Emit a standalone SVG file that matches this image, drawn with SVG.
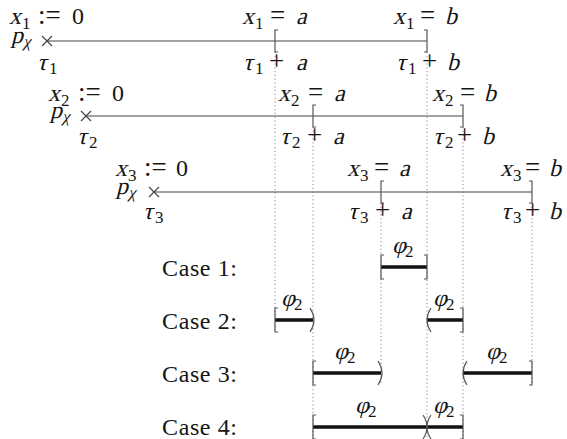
<svg xmlns="http://www.w3.org/2000/svg" width="567" height="439" viewBox="0 0 567 439">
<style>
text{font-family:"Liberation Serif","Times New Roman",serif;font-size:24px;fill:#151515}
.s{font-size:17px}
.g{font-size:17px}
.op{font-size:27px}
.axis{stroke:#444;stroke-width:1.2;fill:none}
.br{stroke:#555;stroke-width:1.2;fill:none}
.thick{stroke:#111;stroke-width:3.6;fill:none}
.dot{stroke:#888;stroke-width:1;stroke-dasharray:1.2 2.6;fill:none}
</style>
<rect width="567" height="439" fill="#fff"/>
<g id="connectors">
<path class="dot" d="M275 52V330"/>
<path class="dot" d="M313 127V439"/>
<path class="dot" d="M381 203V385"/>
<path class="dot" d="M427 52V439"/>
<path class="dot" d="M463 127V439"/>
<path class="dot" d="M532 203V385"/>
</g>
<g id="row1">
<path class="axis" d="M47 41H427"/>
<path class="axis" d="M42 36L52 46M42 46L52 36"/>
<path class="br" d="M278 30H275V52H278M424 30H427V52H424"/>
<g transform="translate(11,43)"><text transform="skewX(-14)">p</text><text class="g" transform="translate(12,4) skewX(-14)">χ</text></g>
<g transform="translate(9,24)"><text transform="skewX(-14)">x</text><text class="s" x="13" y="5">1</text><text class="op" x="29">:=</text><text x="63">0</text></g>
<g transform="translate(37,70)"><text transform="skewX(-14)">τ</text><text class="s" x="12" y="4">1</text></g>
<g transform="translate(242,24)"><text transform="skewX(-14)">x</text><text class="s" x="13" y="5">1</text><text class="op" x="28">=</text><text transform="translate(54,0) skewX(-14)">a</text></g>
<g transform="translate(393,24)"><text transform="skewX(-14)">x</text><text class="s" x="13" y="5">1</text><text class="op" x="27">=</text><text transform="translate(52,0) skewX(-14)">b</text></g>
<g transform="translate(243,70)"><text transform="skewX(-14)">τ</text><text class="s" x="12" y="4">1</text><text class="op" x="26">+</text><text transform="translate(53,0) skewX(-14)">a</text></g>
<g transform="translate(396,70)"><text transform="skewX(-14)">τ</text><text class="s" x="12" y="4">1</text><text class="op" x="26">+</text><text transform="translate(51,0) skewX(-14)">b</text></g>
</g>
<g id="row2">
<path class="axis" d="M86 116H463"/>
<path class="axis" d="M81 111L91 121M81 121L91 111"/>
<path class="br" d="M316 105H313V127H316M460 105H463V127H460"/>
<g transform="translate(50,118)"><text transform="skewX(-14)">p</text><text class="g" transform="translate(12,4) skewX(-14)">χ</text></g>
<g transform="translate(48,101)"><text transform="skewX(-14)">x</text><text class="s" x="13" y="5">2</text><text class="op" x="30">:=</text><text x="64">0</text></g>
<g transform="translate(77,144)"><text transform="skewX(-14)">τ</text><text class="s" x="12" y="4">2</text></g>
<g transform="translate(278,101)"><text transform="skewX(-14)">x</text><text class="s" x="13" y="5">2</text><text class="op" x="30">=</text><text transform="translate(56,0) skewX(-14)">a</text></g>
<g transform="translate(432,101)"><text transform="skewX(-14)">x</text><text class="s" x="13" y="5">2</text><text class="op" x="28">=</text><text transform="translate(52,0) skewX(-14)">b</text></g>
<g transform="translate(280,144)"><text transform="skewX(-14)">τ</text><text class="s" x="12" y="4">2</text><text class="op" x="27">+</text><text transform="translate(53,0) skewX(-14)">a</text></g>
<g transform="translate(433,144)"><text transform="skewX(-14)">τ</text><text class="s" x="12" y="4">2</text><text class="op" x="24">+</text><text transform="translate(49,0) skewX(-14)">b</text></g>
</g>
<g id="row3">
<path class="axis" d="M154 192H532"/>
<path class="axis" d="M149 187L159 197M149 197L159 187"/>
<path class="br" d="M384 181H381V203H384M529 181H532V203H529"/>
<g transform="translate(116,194)"><text transform="skewX(-14)">p</text><text class="g" transform="translate(12,4) skewX(-14)">χ</text></g>
<g transform="translate(115,176)"><text transform="skewX(-14)">x</text><text class="s" x="13" y="5">3</text><text class="op" x="29">:=</text><text x="61">0</text></g>
<g transform="translate(143,219)"><text transform="skewX(-14)">τ</text><text class="s" x="12" y="4">3</text></g>
<g transform="translate(347,176)"><text transform="skewX(-14)">x</text><text class="s" x="13" y="5">3</text><text class="op" x="27">=</text><text transform="translate(52,0) skewX(-14)">a</text></g>
<g transform="translate(500,176)"><text transform="skewX(-14)">x</text><text class="s" x="13" y="5">3</text><text class="op" x="25">=</text><text transform="translate(49,0) skewX(-14)">b</text></g>
<g transform="translate(348,219)"><text transform="skewX(-14)">τ</text><text class="s" x="12" y="4">3</text><text class="op" x="27">+</text><text transform="translate(53,0) skewX(-14)">a</text></g>
<g transform="translate(501,219)"><text transform="skewX(-14)">τ</text><text class="s" x="12" y="4">3</text><text class="op" x="24">+</text><text transform="translate(48,0) skewX(-14)">b</text></g>
</g>
<g id="case1">
<text x="162" y="276" textLength="75" lengthAdjust="spacing">Case 1:</text>
<path class="thick" d="M381 267H427"/>
<path class="br" d="M384 255H381V279H384M424 255H427V279H424"/>
<g transform="translate(392,253)"><text transform="skewX(-14)">φ</text><text class="s" x="13" y="4">2</text></g>
</g>
<g id="case2">
<text x="162" y="329" textLength="75" lengthAdjust="spacing">Case 2:</text>
<path class="thick" d="M275 320H313M427 320H463"/>
<path class="br" d="M278 308H275V332H278"/>
<path class="br" d="M310 308Q318 320 310 332"/>
<path class="br" d="M431 308Q423 320 431 332"/>
<path class="br" d="M460 308H463V332H460"/>
<g transform="translate(281,306)"><text transform="skewX(-14)">φ</text><text class="s" x="13" y="4">2</text></g>
<g transform="translate(433,306)"><text transform="skewX(-14)">φ</text><text class="s" x="13" y="4">2</text></g>
</g>
<g id="case3">
<text x="162" y="382" textLength="75" lengthAdjust="spacing">Case 3:</text>
<path class="thick" d="M313 373H381M463 373H532"/>
<path class="br" d="M316 361H313V385H316"/>
<path class="br" d="M378 361Q386 373 378 385"/>
<path class="br" d="M467 361Q459 373 467 385"/>
<path class="br" d="M529 361H532V385H529"/>
<g transform="translate(334,359)"><text transform="skewX(-14)">φ</text><text class="s" x="13" y="4">2</text></g>
<g transform="translate(486,359)"><text transform="skewX(-14)">φ</text><text class="s" x="13" y="4">2</text></g>
</g>
<g id="case4">
<text x="162" y="435" textLength="75" lengthAdjust="spacing">Case 4:</text>
<path class="thick" d="M313 427H463"/>
<path class="br" d="M316 415H313V439H316"/>
<path class="br" d="M423 415Q431 427 423 439"/>
<path class="br" d="M431 415Q423 427 431 439"/>
<path class="br" d="M460 415H463V439H460"/>
<g transform="translate(355,413)"><text transform="skewX(-14)">φ</text><text class="s" x="13" y="4">2</text></g>
<g transform="translate(433,413)"><text transform="skewX(-14)">φ</text><text class="s" x="13" y="4">2</text></g>
</g>
</svg>
